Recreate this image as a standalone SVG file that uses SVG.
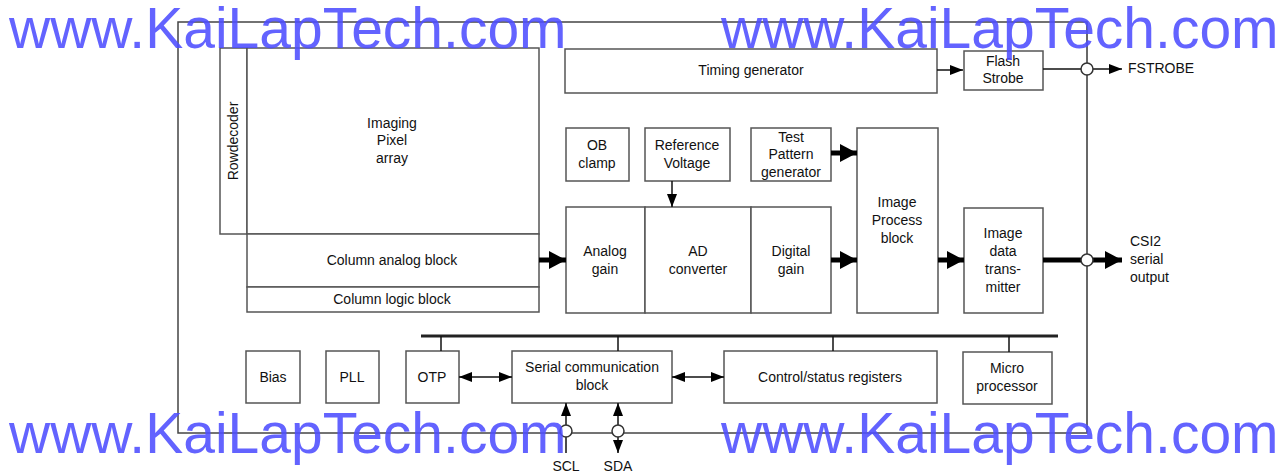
<svg xmlns="http://www.w3.org/2000/svg" width="1279" height="473" viewBox="0 0 1279 473">
<defs>
<style>
.b{fill:#fff;stroke:#555;stroke-width:1.5}
.t{font-family:"Liberation Sans",Arial,sans-serif;font-size:14px;fill:#111;text-anchor:middle}
.ts{font-family:"Liberation Sans",Arial,sans-serif;font-size:14px;fill:#111}
.c{stroke:#111;stroke-width:1.5;fill:none}
.k{stroke:#000;stroke-width:5;fill:none}
.wm{font-family:"Liberation Sans",Arial,sans-serif;font-size:57px;fill:#4d4dff;fill-opacity:0.88}
</style>
<marker id="a" markerUnits="userSpaceOnUse" markerWidth="14" markerHeight="12" refX="13" refY="6" orient="auto-start-reverse"><path d="M0,1 L13,6 L0,11 Z" fill="#000"/></marker>
<marker id="ak" markerUnits="userSpaceOnUse" markerWidth="18" markerHeight="20" refX="17" refY="10" orient="auto"><path d="M0,1 L17,10 L0,19 Z" fill="#000"/></marker>
</defs>
<rect width="1279" height="473" fill="#fff"/>
<rect x="178" y="22" width="909" height="411" fill="none" stroke="#444" stroke-width="1.5"/>
<g id="rowdecoder"><rect class="b" x="220" y="48" width="27" height="186"/><text class="t" transform="translate(238,141) rotate(-90)">Rowdecoder</text></g>
<g id="pixelarray"><rect class="b" x="247" y="48" width="292" height="186"/><text class="t" x="392" y="128">Imaging</text><text class="t" x="392" y="145">Pixel</text><text class="t" x="392" y="163">array</text></g>
<g id="colanalog"><rect class="b" x="247" y="234" width="292" height="53"/><text class="t" x="392" y="265">Column analog block</text></g>
<g id="collogic"><rect class="b" x="247" y="287" width="292" height="25"/><text class="t" x="392" y="304">Column logic block</text></g>
<g id="timing"><rect class="b" x="565" y="49" width="372" height="44"/><text class="t" x="751" y="75">Timing generator</text></g>
<g id="flash"><rect class="b" x="964" y="51" width="79" height="39"/><text class="t" x="1003" y="66">Flash</text><text class="t" x="1003" y="83">Strobe</text></g>
<g id="obclamp"><rect class="b" x="566" y="128" width="63" height="53"/><text class="t" x="597" y="150">OB</text><text class="t" x="597" y="168">clamp</text></g>
<g id="refvolt"><rect class="b" x="645" y="128" width="85" height="53"/><text class="t" x="687" y="150">Reference</text><text class="t" x="687" y="168">Voltage</text></g>
<g id="testpattern"><rect class="b" x="751" y="128" width="80" height="53"/><text class="t" x="791" y="142">Test</text><text class="t" x="791" y="159">Pattern</text><text class="t" x="791" y="177">generator</text></g>
<g id="analoggain"><rect class="b" x="566" y="207" width="79" height="106"/><text class="t" x="605" y="256">Analog</text><text class="t" x="605" y="274">gain</text></g>
<g id="adconv"><rect class="b" x="645" y="207" width="106" height="106"/><text class="t" x="698" y="256">AD</text><text class="t" x="698" y="274">converter</text></g>
<g id="digitalgain"><rect class="b" x="751" y="207" width="80" height="106"/><text class="t" x="791" y="256">Digital</text><text class="t" x="791" y="274">gain</text></g>
<g id="imageprocess"><rect class="b" x="857" y="128" width="81" height="185"/><text class="t" x="897" y="207">Image</text><text class="t" x="897" y="225">Process</text><text class="t" x="897" y="243">block</text></g>
<g id="transmitter"><rect class="b" x="964" y="208" width="79" height="105"/><text class="t" x="1003" y="238">Image</text><text class="t" x="1003" y="256">data</text><text class="t" x="1003" y="274">trans-</text><text class="t" x="1003" y="292">mitter</text></g>
<g id="bias"><rect class="b" x="246" y="351" width="54" height="52"/><text class="t" x="273" y="382">Bias</text></g>
<g id="pll"><rect class="b" x="326" y="351" width="53" height="52"/><text class="t" x="352" y="382">PLL</text></g>
<g id="otp"><rect class="b" x="406" y="351" width="53" height="52"/><text class="t" x="432" y="382">OTP</text></g>
<g id="serial"><rect class="b" x="512" y="351" width="160" height="52"/><text class="t" x="592" y="372">Serial communication</text><text class="t" x="592" y="390">block</text></g>
<g id="control"><rect class="b" x="724" y="351" width="213" height="52"/><text class="t" x="830" y="382">Control/status registers</text></g>
<g id="micro"><rect class="b" x="963" y="352" width="89" height="52"/><text class="t" x="1007" y="373">Micro</text><text class="t" x="1007" y="391">processor</text></g>
<g id="labels"><text class="ts" x="1128" y="73">FSTROBE</text><text class="ts" x="1130" y="246">CSI2</text><text class="ts" x="1130" y="264">serial</text><text class="ts" x="1130" y="282">output</text><text class="t" x="566" y="471">SCL</text><text class="t" x="618" y="471">SDA</text></g>
<g id="connectors">
<line x1="1087" y1="22" x2="1087" y2="433" stroke="#666" stroke-width="1.5"/>
<line class="c" x1="937" y1="70" x2="963" y2="70" marker-end="url(#a)"/>
<line class="c" x1="1043" y1="69" x2="1122" y2="69" marker-end="url(#a)"/>
<line class="c" x1="672" y1="181" x2="672" y2="207" marker-end="url(#a)"/>
<line class="k" x1="539" y1="260" x2="566" y2="260" marker-end="url(#ak)"/>
<line class="k" x1="831" y1="260" x2="857" y2="260" marker-end="url(#ak)"/>
<line class="k" x1="831" y1="153" x2="857" y2="153" marker-end="url(#ak)"/>
<line class="k" x1="938" y1="260" x2="964" y2="260" marker-end="url(#ak)"/>
<line class="k" x1="1043" y1="260" x2="1122" y2="260" marker-end="url(#ak)"/>
<line x1="421" y1="336" x2="1058" y2="336" stroke="#222" stroke-width="3"/>
<line class="c" x1="441" y1="336" x2="441" y2="351"/>
<line class="c" x1="618" y1="336" x2="618" y2="351"/>
<line class="c" x1="833" y1="336" x2="833" y2="351"/>
<line class="c" x1="1009" y1="336" x2="1009" y2="352"/>
<line class="c" x1="459" y1="377" x2="512" y2="377" marker-start="url(#a)" marker-end="url(#a)"/>
<line class="c" x1="672" y1="377" x2="724" y2="377" marker-start="url(#a)" marker-end="url(#a)"/>
<line class="c" x1="566" y1="453" x2="566" y2="403" marker-end="url(#a)"/>
<line class="c" x1="618" y1="453" x2="618" y2="403" marker-start="url(#a)" marker-end="url(#a)"/>
<circle cx="1087" cy="69" r="6" fill="#fff" stroke="#333" stroke-width="1.5"/>
<circle cx="1087" cy="260" r="6" fill="#fff" stroke="#333" stroke-width="1.5"/>
<circle cx="566" cy="431" r="6" fill="#fff" stroke="#333" stroke-width="1.5"/>
<circle cx="618" cy="431" r="6" fill="#fff" stroke="#333" stroke-width="1.5"/>
</g>
<g id="watermarks">
<text class="wm" x="9" y="48">www.KaiLapTech.com</text>
<text class="wm" x="721" y="48">www.KaiLapTech.com</text>
<text class="wm" x="9" y="453">www.KaiLapTech.com</text>
<text class="wm" x="721" y="453">www.KaiLapTech.com</text>
</g>
</svg>
